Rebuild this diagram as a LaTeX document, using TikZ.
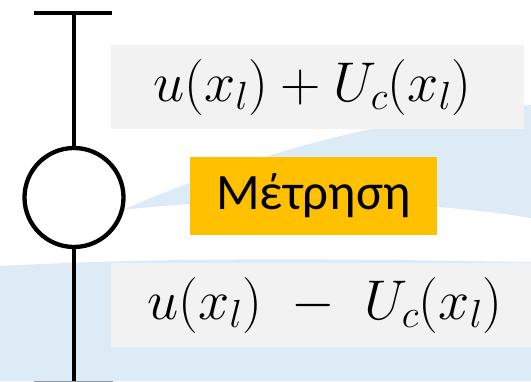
\RequirePackage{fix-cm}
\documentclass[tikz,border=0pt]{standalone}
\usepackage{fontspec}
\newfontfamily\labelfont{Carlito}
\definecolor{bgblue}{HTML}{DDEBF7}
\definecolor{boxgray}{HTML}{F2F2F2}
\definecolor{boxorange}{HTML}{FFC000}
\begin{document}
\begin{tikzpicture}[x=1pt,y=-1pt,
  graybox/.style={fill=boxgray,draw=none},
  formula/.style={font=\fontsize{56}{62}\selectfont},
  wire/.style={line width=4.3pt,draw=black}]
\useasboundingbox (0,0) rectangle (531,381);
% background swooshes
\fill[bgblue] (122,210) .. controls (250,155) and (380,118) .. (531,105)
  -- (531,218) .. controls (420,200) and (250,195) .. (122,210) -- cycle;
\fill[bgblue] (0,266) .. controls (150,258) and (300,258) .. (531,262)
  -- (531,381) -- (0,381) -- cycle;
% boxes
\fill[graybox] (111,45) rectangle (524,129);
\fill[graybox] (111,263) rectangle (531,347);
\node[fill=boxorange,minimum width=247pt,minimum height=78pt,inner sep=0pt,
  font=\labelfont\fontsize{51}{56}\selectfont] (meas) at (313.5,196) {Μέτρηση};
\node[formula] (upper) at (312.5,87) {$u(x_l)+U_c(x_l)$};
\node[formula] (lower) at (325,305) {$u(x_l)\ -\ U_c(x_l)$};
% probe symbol
\coordinate (tl) at (34,13);
\coordinate (tr) at (112,13);
\coordinate (tm) at (74,13);
\coordinate (bl) at (34,383.3);
\coordinate (br) at (113,383.3);
\coordinate (bm) at (74,383.3);
\node[circle,wire,fill=white,minimum size=99pt,inner sep=0pt] (probe) at (74,197.5) {};
\draw[wire] (tl) -- (tr);
\draw[wire] (tm) -- (probe.north);
\draw[wire] (probe.south) -- (bm);
\draw[wire,draw=black!35!bgblue] (bl) -- (br);
\end{tikzpicture}
\end{document}
